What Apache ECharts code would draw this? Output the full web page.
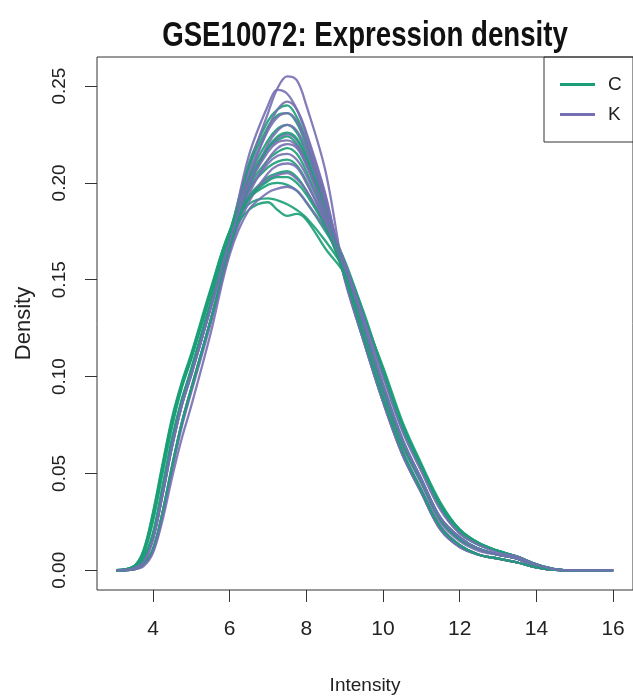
<!DOCTYPE html>
<html>
<head>
<meta charset="utf-8">
<script src="https://cdn.jsdelivr.net/npm/echarts@6/dist/echarts.min.js"></script>
<style>
  html, body { margin: 0; padding: 0; background: #fff; }
  #chart { width: 633px; height: 700px; }
</style>
</head>
<body>
<div id="chart"></div>
<script>
// intensity grid shared by every density curve
const xs = [3.05, 3.5, 3.75, 4, 4.25, 4.5, 4.75, 5, 5.5, 6, 6.5, 7, 7.25, 7.5, 7.75, 8, 8.5, 9, 9.5, 10, 10.5, 11, 11.5, 12, 12.5, 13, 13.5, 14, 14.5, 15, 16];

// group C samples
const c1 = [0, 0.002, 0.009, 0.027, 0.052, 0.076, 0.095, 0.110, 0.143, 0.174, 0.210, 0.232, 0.238, 0.240, 0.234, 0.222, 0.190, 0.155, 0.124, 0.093, 0.065, 0.045, 0.026, 0.016, 0.011, 0.008, 0.006, 0.002, 0.0003, 0, 0];
const c2 = [0, 0.002, 0.008, 0.025, 0.050, 0.074, 0.094, 0.109, 0.142, 0.174, 0.208, 0.229, 0.235, 0.236, 0.231, 0.219, 0.188, 0.151, 0.119, 0.088, 0.061, 0.041, 0.022, 0.013, 0.008, 0.006, 0.004, 0.0015, 0.0002, 0, 0];
const c3 = [0, 0.001, 0.005, 0.018, 0.041, 0.066, 0.087, 0.103, 0.137, 0.171, 0.203, 0.222, 0.228, 0.230, 0.226, 0.215, 0.186, 0.155, 0.125, 0.094, 0.066, 0.046, 0.026, 0.016, 0.011, 0.008, 0.006, 0.002, 0.0003, 0, 0];
const c4 = [0, 0.002, 0.010, 0.029, 0.054, 0.078, 0.096, 0.111, 0.144, 0.175, 0.202, 0.218, 0.222, 0.224, 0.220, 0.210, 0.184, 0.159, 0.131, 0.101, 0.073, 0.052, 0.032, 0.019, 0.013, 0.010, 0.007, 0.003, 0.0005, 0, 0];
const c5 = [0, 0.001, 0.006, 0.019, 0.043, 0.068, 0.088, 0.104, 0.138, 0.171, 0.198, 0.212, 0.216, 0.218, 0.215, 0.206, 0.182, 0.156, 0.126, 0.095, 0.067, 0.047, 0.027, 0.017, 0.011, 0.008, 0.006, 0.002, 0.0003, 0, 0];
const c6 = [0, 0.002, 0.009, 0.028, 0.053, 0.077, 0.096, 0.110, 0.143, 0.174, 0.197, 0.208, 0.211, 0.212, 0.209, 0.201, 0.180, 0.160, 0.132, 0.102, 0.074, 0.053, 0.033, 0.020, 0.013, 0.010, 0.007, 0.003, 0.0005, 0, 0];
const c7 = [0, 0.001, 0.005, 0.017, 0.040, 0.065, 0.086, 0.102, 0.136, 0.170, 0.193, 0.203, 0.205, 0.206, 0.203, 0.196, 0.178, 0.156, 0.127, 0.096, 0.068, 0.047, 0.027, 0.017, 0.011, 0.008, 0.006, 0.002, 0.0003, 0, 0];
const c8 = [0, 0.002, 0.010, 0.030, 0.055, 0.079, 0.097, 0.112, 0.145, 0.175, 0.192, 0.199, 0.200, 0.199, 0.196, 0.190, 0.175, 0.158, 0.133, 0.103, 0.075, 0.054, 0.034, 0.021, 0.014, 0.010, 0.007, 0.003, 0.0005, 0, 0];
const c9 = [0, 0.002, 0.009, 0.027, 0.052, 0.076, 0.095, 0.110, 0.144, 0.175, 0.189, 0.192, 0.191, 0.189, 0.186, 0.182, 0.170, 0.155, 0.131, 0.104, 0.076, 0.054, 0.034, 0.021, 0.014, 0.010, 0.007, 0.003, 0.0005, 0, 0];
const c10 = [0, 0.001, 0.006, 0.019, 0.043, 0.068, 0.088, 0.104, 0.138, 0.172, 0.186, 0.190, 0.186, 0.183, 0.184, 0.181, 0.166, 0.153, 0.130, 0.105, 0.077, 0.055, 0.035, 0.021, 0.014, 0.010, 0.007, 0.003, 0.0005, 0, 0];
const c11 = [0, 0.0005, 0.003, 0.011, 0.030, 0.054, 0.076, 0.094, 0.129, 0.166, 0.198, 0.218, 0.224, 0.226, 0.223, 0.213, 0.186, 0.155, 0.125, 0.094, 0.066, 0.046, 0.026, 0.016, 0.011, 0.008, 0.006, 0.002, 0.0003, 0, 0];
const c12 = [0, 0.001, 0.005, 0.018, 0.041, 0.066, 0.087, 0.103, 0.137, 0.170, 0.192, 0.201, 0.203, 0.203, 0.200, 0.194, 0.177, 0.152, 0.120, 0.089, 0.062, 0.041, 0.022, 0.013, 0.008, 0.006, 0.004, 0.0015, 0.0002, 0, 0];

// group K samples
const k1 = [0, 0.001, 0.005, 0.016, 0.039, 0.064, 0.085, 0.101, 0.135, 0.170, 0.208, 0.236, 0.249, 0.255, 0.253, 0.240, 0.206, 0.152, 0.118, 0.087, 0.060, 0.040, 0.021, 0.012, 0.008, 0.006, 0.004, 0.0015, 0.0002, 0, 0];
const k2 = [0, 0.001, 0.005, 0.017, 0.040, 0.065, 0.086, 0.102, 0.136, 0.171, 0.214, 0.240, 0.248, 0.246, 0.238, 0.225, 0.193, 0.151, 0.118, 0.087, 0.060, 0.040, 0.021, 0.012, 0.008, 0.006, 0.004, 0.0015, 0.0002, 0, 0];
const k3 = [0, 0.0005, 0.003, 0.010, 0.029, 0.053, 0.075, 0.093, 0.128, 0.165, 0.202, 0.228, 0.238, 0.242, 0.238, 0.226, 0.194, 0.150, 0.118, 0.087, 0.060, 0.040, 0.021, 0.012, 0.008, 0.006, 0.004, 0.0015, 0.0002, 0, 0];
const k4 = [0, 0.001, 0.005, 0.017, 0.040, 0.065, 0.086, 0.102, 0.136, 0.170, 0.205, 0.227, 0.234, 0.236, 0.232, 0.221, 0.191, 0.154, 0.124, 0.093, 0.065, 0.045, 0.025, 0.015, 0.010, 0.008, 0.006, 0.002, 0.0003, 0, 0];
const k5 = [0, 0.0005, 0.003, 0.011, 0.030, 0.054, 0.076, 0.094, 0.129, 0.166, 0.198, 0.220, 0.227, 0.230, 0.227, 0.217, 0.189, 0.151, 0.119, 0.088, 0.061, 0.041, 0.022, 0.013, 0.008, 0.006, 0.004, 0.0015, 0.0002, 0, 0];
const k6 = [0, 0.001, 0.004, 0.016, 0.039, 0.064, 0.085, 0.101, 0.135, 0.170, 0.200, 0.218, 0.223, 0.225, 0.222, 0.212, 0.186, 0.155, 0.125, 0.094, 0.066, 0.046, 0.026, 0.016, 0.011, 0.008, 0.006, 0.002, 0.0003, 0, 0];
const k7 = [0, 0.0005, 0.003, 0.010, 0.028, 0.052, 0.074, 0.092, 0.127, 0.165, 0.194, 0.212, 0.218, 0.220, 0.218, 0.209, 0.185, 0.152, 0.120, 0.089, 0.061, 0.041, 0.022, 0.013, 0.008, 0.006, 0.004, 0.0015, 0.0002, 0, 0];
const k8 = [0, 0.001, 0.005, 0.017, 0.040, 0.065, 0.086, 0.102, 0.136, 0.170, 0.196, 0.210, 0.214, 0.215, 0.212, 0.204, 0.182, 0.155, 0.126, 0.095, 0.067, 0.046, 0.026, 0.016, 0.011, 0.008, 0.006, 0.002, 0.0003, 0, 0];
const k9 = [0, 0.0005, 0.003, 0.011, 0.030, 0.054, 0.076, 0.094, 0.129, 0.166, 0.190, 0.205, 0.209, 0.210, 0.208, 0.200, 0.180, 0.155, 0.126, 0.095, 0.067, 0.047, 0.027, 0.017, 0.011, 0.008, 0.006, 0.002, 0.0003, 0, 0];
const k10 = [0, 0.001, 0.005, 0.018, 0.041, 0.066, 0.087, 0.103, 0.137, 0.170, 0.192, 0.202, 0.204, 0.205, 0.202, 0.196, 0.178, 0.152, 0.121, 0.090, 0.062, 0.042, 0.023, 0.013, 0.008, 0.006, 0.004, 0.0015, 0.0002, 0, 0];
const k11 = [0, 0.0005, 0.002, 0.009, 0.026, 0.048, 0.068, 0.085, 0.122, 0.163, 0.186, 0.195, 0.197, 0.198, 0.196, 0.190, 0.176, 0.156, 0.127, 0.096, 0.068, 0.047, 0.027, 0.017, 0.011, 0.008, 0.006, 0.002, 0.0003, 0, 0];
const k12 = [0, 0.001, 0.004, 0.016, 0.039, 0.064, 0.085, 0.101, 0.135, 0.170, 0.199, 0.216, 0.221, 0.222, 0.219, 0.210, 0.185, 0.159, 0.130, 0.100, 0.072, 0.051, 0.031, 0.019, 0.013, 0.009, 0.007, 0.003, 0.0005, 0, 0];

const groupC = [c1, c2, c3, c4, c5, c6, c7, c8, c9, c10, c11, c12];
const groupK = [k1, k2, k3, k4, k5, k6, k7, k8, k9, k10, k11, k12];

const xTicks = [4, 6, 8, 10, 12, 14, 16];
const yTicks = [0, 0.05, 0.1, 0.15, 0.2, 0.25];

const colorC = "#1b9e77";
const colorK = "#7570b3";
const font = "'Liberation Sans', Arial, sans-serif";

function makeSeries(name, ys, color) {
    return {
        name: name,
        type: "line",
        data: xs.map(function (x, i) { return [x, ys[i]]; }),
        showSymbol: false,
        symbol: "none",
        smooth: 0.35,
        silent: true,
        lineStyle: { color: color, width: 2.3, opacity: 0.9 },
        itemStyle: { color: color },
    };
}

const series = [];
for (let i = 0; i < groupC.length; i++) {
    series.push(makeSeries("C", groupC[i], colorC));
    series.push(makeSeries("K", groupK[i], colorK));
}

const chart = echarts.init(document.getElementById("chart"));
chart.setOption({
    animation: false,
    backgroundColor: "#fff",
    // no condensed font installed, so the bold title is squeezed horizontally
    graphic: [
        {
            type: "text",
            x: 365,
            y: 36,
            scaleX: 0.79,
            style: {
                text: "GSE10072: Expression density",
                fontFamily: font,
                fontSize: 35,
                fontWeight: "bold",
                fill: "#111",
                align: "center",
                verticalAlign: "middle",
                textAlign: "center",
                textVerticalAlign: "middle",
            },
        },
    ],
    legend: {
        data: ["C", "K"],
        orient: "vertical",
        left: 544,
        top: 57,
        padding: [18, 60, 18, 16],
        borderColor: "#333",
        borderWidth: 1,
        itemWidth: 35,
        itemHeight: 3,
        itemGap: 11,
        icon: "rect",
        selectedMode: false,
        textStyle: { fontFamily: font, fontSize: 19, lineHeight: 18, color: "#222", padding: [0, 0, 0, 8] },
    },
    grid: {
        left: 97,
        top: 57,
        width: 537,
        height: 535,
        show: true,
        borderColor: "#333",
        borderWidth: 1,
        containLabel: false,
    },
    xAxis: {
        type: "value",
        min: 2.54,
        max: 16.52,
        name: "Intensity",
        nameLocation: "middle",
        nameGap: 86,
        nameTextStyle: { fontFamily: font, fontSize: 19, color: "#222" },
        axisLine: { show: false, onZero: false },
        splitLine: { show: false },
        axisTick: { show: true, length: 12, customValues: xTicks, lineStyle: { color: "#333" } },
        axisLabel: { customValues: xTicks, margin: 29, fontFamily: font, fontSize: 21, color: "#222" },
    },
    yAxis: {
        type: "value",
        min: -0.0102,
        max: 0.265,
        name: "Density",
        nameLocation: "middle",
        nameGap: 62,
        nameTextStyle: { fontFamily: font, fontSize: 22, color: "#222" },
        axisLine: { show: false, onZero: false },
        splitLine: { show: false },
        axisTick: { show: true, length: 12, customValues: yTicks, lineStyle: { color: "#333" } },
        axisLabel: {
            customValues: yTicks,
            rotate: 90,
            margin: 28,
            fontFamily: font,
            fontSize: 19,
            color: "#222",
            formatter: function (v) { return v.toFixed(2); },
        },
    },
    series: series,
});
</script>
</body>
</html>
